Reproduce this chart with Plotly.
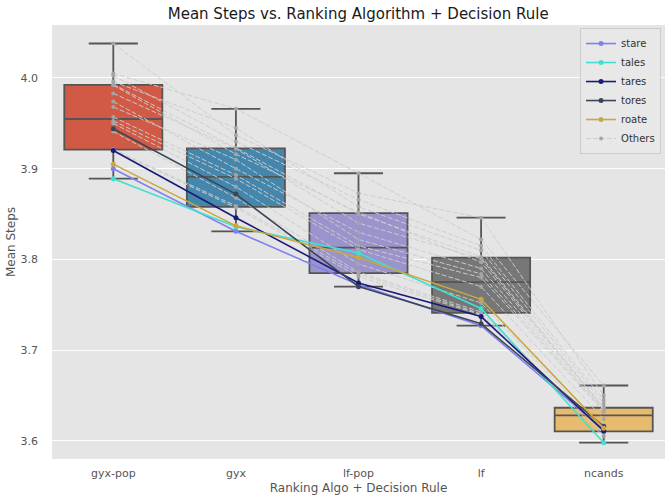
import plotly.graph_objects as go

# Categories on the x axis
categories = ["gyx-pop", "gyx", "lf-pop", "lf", "ncands"]
box_colors = ["#D05A46", "#4586AD", "#9B93CB", "#777777", "#E8BA6E"]

# Highlighted words (mean steps per category)
stare = [3.900, 3.831, 3.772, 3.727, 3.612]
tales = [3.889, 3.836, 3.807, 3.746, 3.598]
tares = [3.920, 3.846, 3.774, 3.737, 3.611]
tores = [3.944, 3.872, 3.770, 3.729, 3.616]
roate = [3.905, 3.837, 3.802, 3.756, 3.614]

highlight_names = ["stare", "tales", "tares", "tores", "roate"]
highlight_values = [stare, tales, tares, tores, roate]
highlight_colors = ["#8080F0", "#40E0D0", "#1A1A78", "#3A4658", "#C8A840"]

# Remaining words, one row per word
others = [
    [4.038, 3.937, 3.873, 3.846, 3.650],
    [4.005, 3.966, 3.895, 3.822, 3.661],
    [4.0026, 3.930, 3.866, 3.815, 3.645],
    [3.996, 3.945, 3.858, 3.810, 3.641],
    [3.993, 3.923, 3.850, 3.803, 3.637],
    [3.992, 3.916, 3.852, 3.797, 3.636],
    [3.983, 3.922, 3.840, 3.801, 3.635],
    [3.974, 3.900, 3.830, 3.790, 3.634],
    [3.968, 3.910, 3.822, 3.784, 3.633],
    [3.957, 3.893, 3.815, 3.780, 3.632],
    [3.9526, 3.889, 3.811, 3.770, 3.624],
    [3.950, 3.880, 3.795, 3.752, 3.610],
    [3.941, 3.868, 3.786, 3.742, 3.609],
    [3.9215, 3.859, 3.784, 3.740, 3.608],
    [3.9205, 3.857, 3.781, 3.739, 3.605],
]

all_rows = highlight_values + others

fig = go.Figure()

# Boxes built from every word's value in each category
for i, cat in enumerate(categories):
    vals = [row[i] for row in all_rows]
    fig.add_trace(go.Box(
        x=[cat] * len(vals),
        y=vals,
        width=0.8,
        whiskerwidth=0.5,
        fillcolor=box_colors[i],
        line=dict(color="#555555", width=1.8),
        boxpoints=False,
        quartilemethod="linear",
        showlegend=False,
        hoverinfo="skip",
    ))

# Others: dashed light lines
for j, row in enumerate(others):
    fig.add_trace(go.Scatter(
        x=categories,
        y=row,
        mode="lines+markers",
        name="Others",
        legendgroup="others",
        legendrank=2000,
        showlegend=(j == 0),
        line=dict(color="rgba(204,204,204,0.95)", width=1, dash="5px,2px"),
        marker=dict(color="#A5A5A5", size=4),
    ))

# Highlighted words
for name, vals, color in zip(highlight_names, highlight_values, highlight_colors):
    fig.add_trace(go.Scatter(
        x=categories,
        y=vals,
        mode="lines+markers",
        name=name,
        line=dict(color=color, width=1.6),
        marker=dict(color=color, size=5),
    ))

fig.update_layout(
    width=672,
    height=503,
    margin=dict(l=52, r=7, t=25, b=44),
    paper_bgcolor="white",
    plot_bgcolor="#E5E5E5",
    font=dict(family="DejaVu Sans", size=11, color="#555555"),
    title=dict(
        text="Mean Steps vs. Ranking Algorithm + Decision Rule",
        x=0.533, xanchor="center", y=0.972, yanchor="middle",
        font=dict(size=15, color="#1A1A1A"),
    ),
    boxmode="overlay",
    xaxis=dict(
        title=dict(text="Ranking Algo + Decision Rule", font=dict(size=12), standoff=4),
        categoryorder="array",
        categoryarray=categories,
        range=[-0.5, 4.5],
        showgrid=False,
        ticks="",
        ticklabelstandoff=6,
        tickfont=dict(size=11),
    ),
    yaxis=dict(
        title=dict(text="Mean Steps", font=dict(size=12), standoff=2),
        range=[3.580, 4.0584],
        tickvals=[3.6, 3.7, 3.8, 3.9, 4.0],
        tickformat=".1f",
        showgrid=True,
        gridcolor="white",
        gridwidth=1,
        zeroline=False,
        ticks="",
        ticklabelstandoff=13,
        tickfont=dict(size=11),
    ),
    legend=dict(
        x=0.9935, xanchor="right", y=0.993, yanchor="top",
        bgcolor="#E8E8E8",
        bordercolor="#CCCCCC",
        borderwidth=1,
        font=dict(size=10, color="#333333"),
        tracegroupgap=0,
        itemwidth=30,
    ),
)

# page body has a default 8px margin; drop it so the figure sits at the corner
fig.write_html(
    "out.html",
    config={"displayModeBar": False},
    post_script="document.body.style.margin='0';",
)
